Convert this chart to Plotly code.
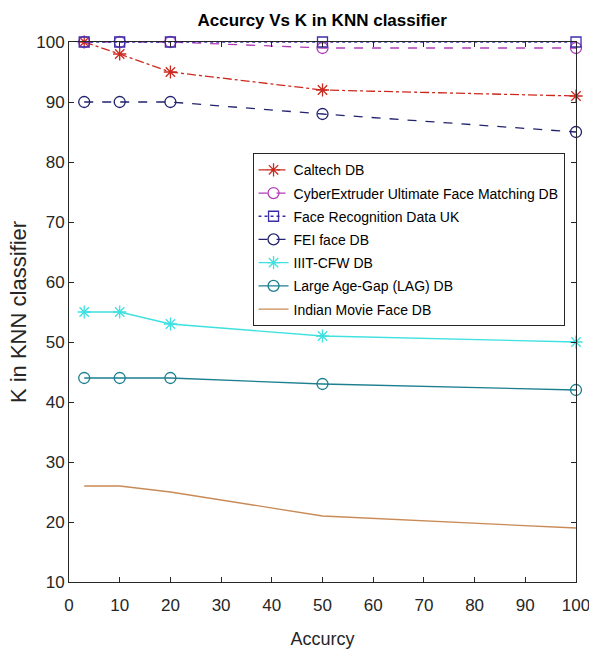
import plotly.graph_objects as go

k_values = [3, 10, 20, 50, 100]
caltech = [100, 98, 95, 92, 91]
cyberextruder = [100, 100, 100, 99, 99]
face_uk = [100, 100, 100, 100, 100]
fei = [90, 90, 90, 88, 85]
iiit_cfw = [55, 55, 53, 51, 50]
lag = [44, 44, 44, 43, 42]
indian_movie = [26, 26, 25, 21, 19]

x_ticks = list(range(0, 101, 10))
y_ticks = list(range(10, 101, 10))

FONT = "Liberation Sans, Arial, Helvetica"

series = [
    ("Caltech DB", caltech, "#cc2a1e", "dashdot", "asterisk-open", 11),
    ("CyberExtruder Ultimate Face Matching DB", cyberextruder, "#b03cb8", "dash", "circle-open", 11),
    ("Face Recognition Data UK", face_uk, "#3a2fa8", "dot", "square-open", 10),
    ("FEI face DB", fei, "#22226e", "dash", "circle-open", 11),
    ("IIIT-CFW DB", iiit_cfw, "#3ee0e0", "solid", "asterisk-open", 11),
    ("Large Age-Gap (LAG) DB", lag, "#1c7f90", "solid", "circle-open", 11),
    ("Indian Movie Face DB", indian_movie, "#c98a55", "solid", None, 0),
]

fig = go.Figure()
for name, vals, color, dash, sym, size in series:
    mode = "lines+markers" if sym else "lines"
    marker = dict(symbol=sym, size=size, color=color, line=dict(width=1.3, color=color)) if sym else None
    fig.add_trace(go.Scatter(
        x=k_values, y=vals, name=name, mode=mode, legendgroup=name,
        line=dict(color=color, width=1.3, dash=dash),
        marker=marker, cliponaxis=False,
    ))

axis_common = dict(
    showline=True, linecolor="#262626", linewidth=1, mirror="ticks",
    ticks="inside", ticklen=5, tickcolor="#262626", showgrid=False, zeroline=False,
    automargin=False, ticklabeloverflow="allow",
    tickfont=dict(family=FONT, size=17, color="#262626"),
)

fig.update_layout(
    width=589, height=650,
    margin=dict(l=69, r=13, t=42, b=68),
    paper_bgcolor="white", plot_bgcolor="white",
    font=dict(family=FONT, color="#262626"),
    title=dict(text="<b>Accurcy Vs K in KNN classifier</b>", x=0.547, xanchor="center",
               y=0.969, yanchor="middle", font=dict(family=FONT, size=17, color="black")),
    xaxis=dict(range=[0, 100], tickvals=x_ticks, ticklabelstandoff=8, **axis_common,
               title=dict(text="Accurcy", standoff=17,
                          font=dict(family=FONT, size=18, color="#262626"))),
    yaxis=dict(range=[10, 100], tickvals=y_ticks, **axis_common,
               title=dict(text="K in KNN classifier", standoff=3,
                          font=dict(family=FONT, size=22, color="#262626"))),
    legend=dict(x=0.362, y=0.794, xanchor="left", yanchor="top",
                bordercolor="#262626", borderwidth=1, bgcolor="white",
                font=dict(family=FONT, size=14, color="black"),
                tracegroupgap=2, itemwidth=30),
    showlegend=True,
)

fig.write_html("out.html", config={"displayModeBar": False},
               post_script="document.body.style.margin='0';")
